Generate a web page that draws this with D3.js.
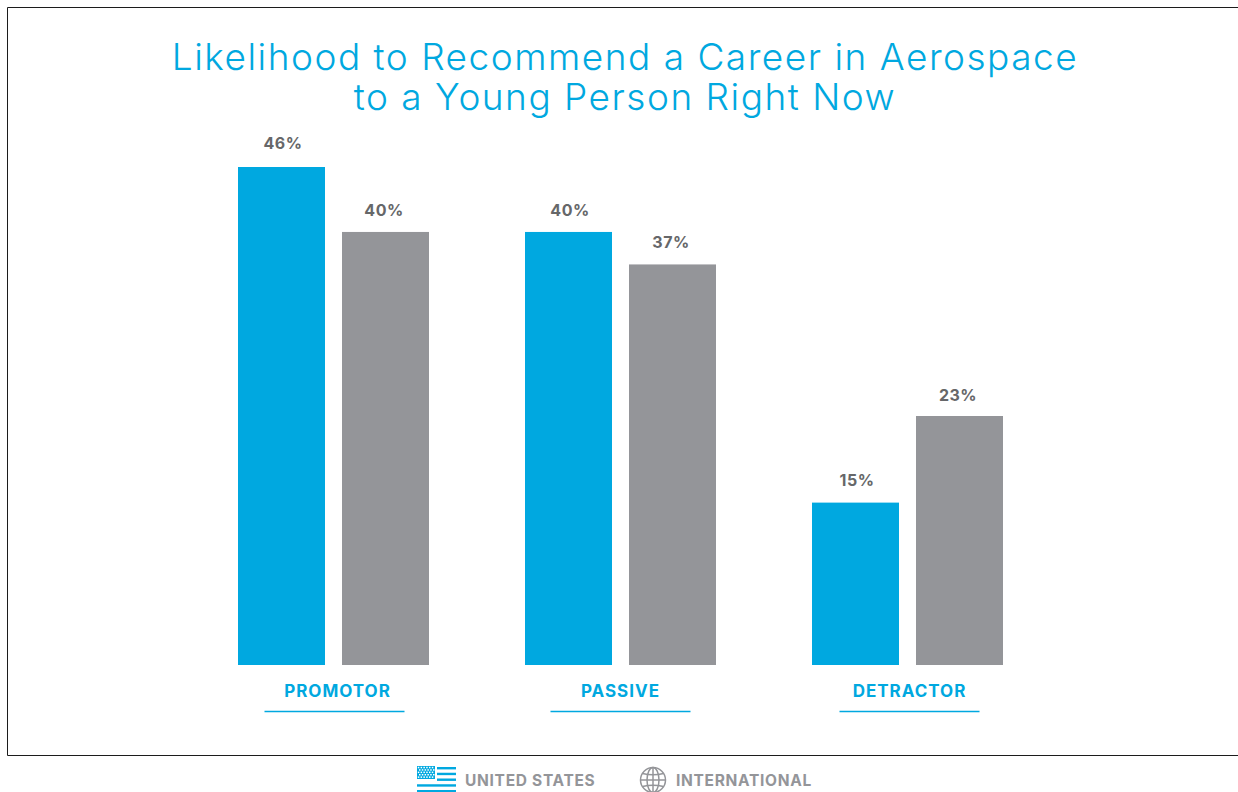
<!DOCTYPE html>
<html>
<head>
<meta charset="utf-8">
<script src="https://cdn.jsdelivr.net/npm/d3@7"></script>
<style>
    html, body { margin: 0; padding: 0; background: #fff; overflow: hidden; }
    text { font-family: Inter, "Open Sans", sans-serif; }
</style>
</head>
<body>
<svg id="chart" width="1238" height="792"></svg>
<script>
const categories = ["PROMOTOR", "PASSIVE", "DETRACTOR"];
const unitedStates = [46, 40, 15];
const international = [40, 37, 23];
const seriesNames = ["UNITED STATES", "INTERNATIONAL"];
const titleLines = ["Likelihood to Recommend a Career in Aerospace", "to a Young Person Right Now"];

const BLUE = "#00a8e0";
const GRAY = "#949599";
const LABEL_GRAY = "#666769";

let svg = d3.select("#chart");

// frame runs off the right side of the page
svg.append("path")
    .attr("d", "M1238.5,7.5H7.5V755.5H1238.5")
    .attr("fill", "none")
    .attr("stroke", "#1c1c1c")
    .attr("stroke-width", 1);

let title = svg.append("text")
    .attr("class", "title")
    .attr("text-anchor", "middle")
    .style("font-size", "37px")
    .style("font-weight", 300)
    .style("letter-spacing", "1.5px")
    .style("fill", BLUE);

title.selectAll("tspan")
    .data(titleLines)
    .enter()
    .append("tspan")
    .attr("x", 625)
    .attr("y", (d, i) => 70 + i * 40)
    .text((d) => d);

let x0 = d3.scaleBand()
    .domain(categories)
    .range([238, 1003])
    .paddingInner(96 / 287)
    .paddingOuter(0);

let x1 = d3.scaleBand()
    .domain(seriesNames)
    .range([0, x0.bandwidth()])
    .paddingInner(17 / 104)
    .paddingOuter(0);

let y = d3.scaleLinear().domain([0, 46]).range([665, 167]);

// gap between a bar top and the baseline of its label
const usLabelGaps = [18, 16, 17];
const intlLabelGaps = [16, 16, 15];

const rows = categories.map((c, i) => ({
    category: c,
    values: [
        { series: seriesNames[0], value: unitedStates[i], color: BLUE, gap: usLabelGaps[i], dx: 1.5 },
        { series: seriesNames[1], value: international[i], color: GRAY, gap: intlLabelGaps[i], dx: -1.5 },
    ],
}));

let groups = svg.selectAll(".group")
    .data(rows)
    .enter()
    .append("g")
    .attr("class", "group")
    .attr("transform", (d) => "translate(" + x0(d.category) + ",0)");

groups.selectAll("rect")
    .data((d) => d.values)
    .enter()
    .append("rect")
    .attr("x", (d) => x1(d.series))
    .attr("y", (d) => y(d.value))
    .attr("width", x1.bandwidth())
    .attr("height", (d) => y(0) - y(d.value))
    .attr("fill", (d) => d.color);

groups.selectAll(".value")
    .data((d) => d.values)
    .enter()
    .append("text")
    .attr("class", "value")
    .attr("x", (d) => x1(d.series) + x1.bandwidth() / 2 + d.dx)
    .attr("y", (d) => y(d.value) - d.gap)
    .attr("text-anchor", "middle")
    .style("font-size", "16px")
    .style("font-weight", 700)
    .style("letter-spacing", "0.5px")
    .style("fill", LABEL_GRAY)
    .text((d) => d.value + "%");

// category names sit a little off the group centre, each with its own underline
const labelCentres = [337.5, 620.5, 909.5];
const ruleCentres = [334.5, 620.5, 909.5];

svg.selectAll(".category")
    .data(categories)
    .enter()
    .append("text")
    .attr("class", "category")
    .attr("x", (d, i) => labelCentres[i])
    .attr("y", 697)
    .attr("text-anchor", "middle")
    .style("font-size", "17px")
    .style("font-weight", 700)
    .style("letter-spacing", "1px")
    .style("fill", BLUE)
    .text((d) => d);

svg.selectAll(".rule")
    .data(ruleCentres)
    .enter()
    .append("line")
    .attr("class", "rule")
    .attr("x1", (d) => d - 70)
    .attr("x2", (d) => d + 70)
    .attr("y1", 711.5)
    .attr("y2", 711.5)
    .attr("stroke", BLUE)
    .attr("stroke-width", 1.3);

// legend: flag icon
let flag = svg.append("g").attr("transform", "translate(417,766)");

flag.append("rect").attr("width", 18).attr("height", 13).attr("fill", BLUE);

d3.range(5).forEach((row) => {
    flag.selectAll(null)
        .data(d3.range(6))
        .enter()
        .append("rect")
        .attr("x", (d) => 0.8 + d * 2.8 + (row % 2) * 1.2)
        .attr("y", 0.8 + row * 2.4)
        .attr("width", 1.5)
        .attr("height", 1.5)
        .attr("fill", "#fff");
});

flag.selectAll(".stripe")
    .data(d3.range(5))
    .enter()
    .append("rect")
    .attr("class", "stripe")
    .attr("x", (d) => (d < 3 ? 20 : 0))
    .attr("y", (d) => 1 + d * 5.75)
    .attr("width", (d) => (d < 3 ? 19 : 39))
    .attr("height", 2.4)
    .attr("fill", BLUE);

// legend: globe icon
let globe = svg.append("g")
    .attr("transform", "translate(653,780)")
    .attr("fill", "none")
    .attr("stroke", GRAY)
    .attr("stroke-width", 1.5);

globe.append("circle").attr("r", 12.5);
globe.append("ellipse").attr("rx", 6).attr("ry", 12.5);
globe.append("line").attr("y1", -12.5).attr("y2", 12.5);
globe.append("line").attr("x1", -12.5).attr("x2", 12.5);
globe.append("path").attr("d", "M-10.5,-6.5Q0,-4 10.5,-6.5M-10.5,6.5Q0,4 10.5,6.5");

svg.selectAll(".legend")
    .data(seriesNames)
    .enter()
    .append("text")
    .attr("class", "legend")
    .attr("x", (d, i) => (i === 0 ? 465 : 676))
    .attr("y", 786)
    .style("font-size", "15.5px")
    .style("font-weight", 700)
    .style("letter-spacing", "0.7px")
    .style("fill", GRAY)
    .text((d) => d);
</script>
</body>
</html>
